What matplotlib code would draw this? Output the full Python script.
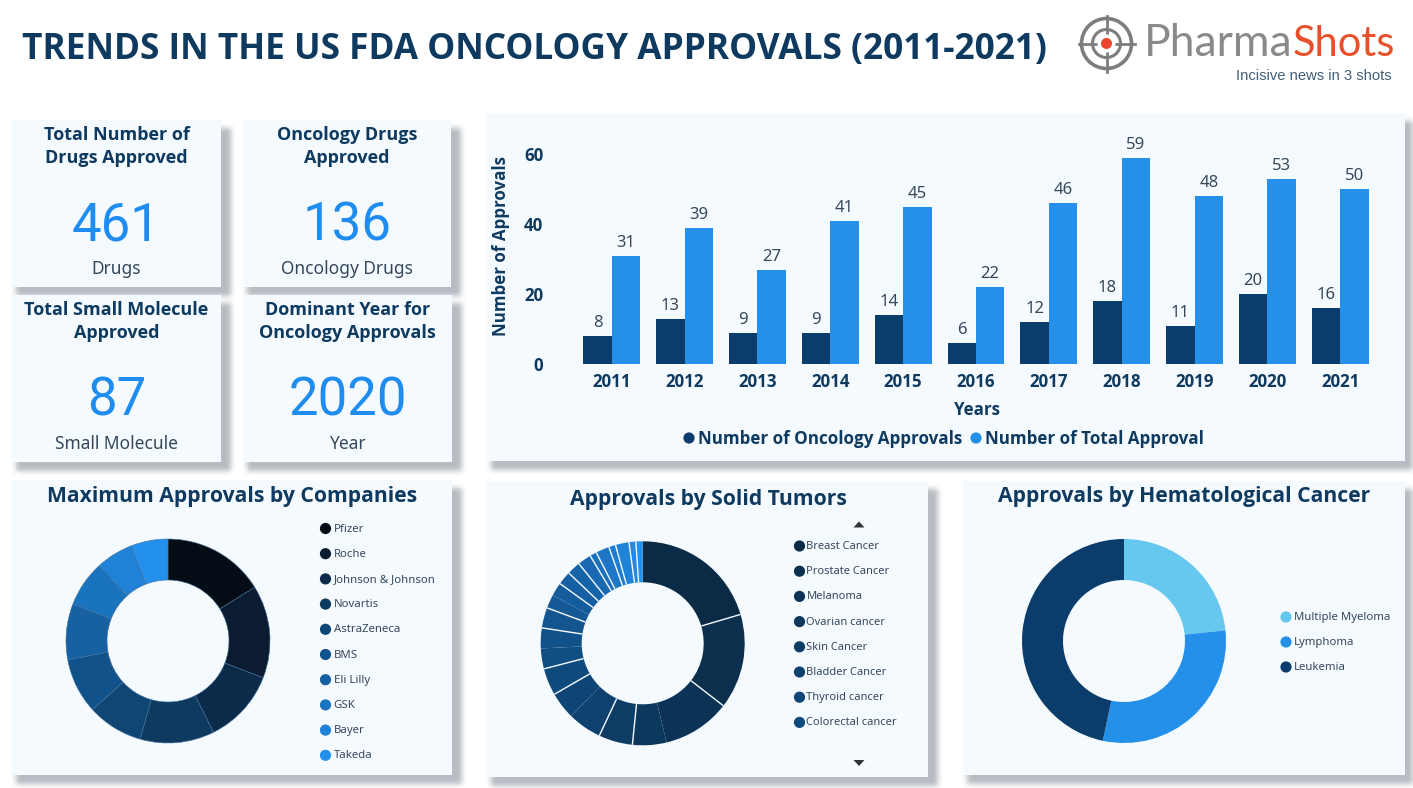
import numpy as np
import matplotlib
matplotlib.use("Agg")
import matplotlib.pyplot as plt
from matplotlib.colors import LinearSegmentedColormap
from matplotlib.patches import Circle, Rectangle, Polygon

plt.rcParams["font.family"] = ["Noto Sans", "DejaVu Sans"]

W, H = 1413, 788
NAVY = "#0f3a60"
DARK = "#0a3d6b"
BLUE = "#2490ea"
NUM_BLUE = "#1f8df0"
CARD = "#f5faff"
GREY_TXT = "#35485c"
BOLD = "Open Sans"

years = ["2011", "2012", "2013", "2014", "2015", "2016", "2017", "2018", "2019", "2020", "2021"]
oncology = [8, 13, 9, 9, 14, 6, 12, 18, 11, 20, 16]
total = [31, 39, 27, 41, 45, 22, 46, 59, 48, 53, 50]

kpi_titles = ["Total Number of\nDrugs Approved", "Oncology Drugs\nApproved",
              "Total Small Molecule\nApproved", "Dominant Year for\nOncology Approvals"]
kpi_values = ["461", "136", "87", "2020"]
kpi_units = ["Drugs", "Oncology Drugs", "Small Molecule", "Year"]

companies = ["Pfizer", "Roche", "Johnson & Johnson", "Novartis", "AstraZeneca",
             "BMS", "Eli Lilly", "GSK", "Bayer", "Takeda"]
company_vals = [11, 10, 8, 8, 6, 6, 6, 5, 4, 4]
company_cols = ["#040d16", "#0b1c30", "#0c2a4a", "#0e3a5f", "#0f4674",
                "#12528a", "#1761a3", "#1a73bd", "#1f82d6", "#2490ee"]

tumors_shown = ["Breast Cancer", "Prostate Cancer", "Melanoma", "Ovarian cancer",
                "Skin Cancer", "Bladder Cancer", "Thyroid cancer", "Colorectal cancer"]
tumor_vals = [19, 14, 10, 5, 5, 5, 4, 4, 3, 3, 3, 2, 2, 2, 2, 2, 1, 2, 1, 2, 1, 1]

heme = ["Multiple Myeloma", "Lymphoma", "Leukemia"]
heme_vals = [14, 18, 28]
heme_cols = ["#66c8ee", "#2490ea", "#0a3d6b"]

# card boxes in pixels: left, top, right, bottom
kpi_boxes = [(12, 120, 221, 287), (243, 120, 451, 287), (12, 295, 221, 462), (243, 295, 452, 462)]
panel_boxes = [(487, 113, 1405, 461), (12, 480, 452, 775), (487, 481, 928, 777), (963, 481, 1405, 775)]


def px_axes(fig, left, top, right, bottom):
    return fig.add_axes([left / W, 1 - bottom / H, (right - left) / W, (bottom - top) / H])


def blur(a, size=9):
    k = np.hanning(size + 2)[1:-1]
    k = k / k.sum()
    a = np.apply_along_axis(lambda r: np.convolve(r, k, mode="same"), 0, a)
    a = np.apply_along_axis(lambda r: np.convolve(r, k, mode="same"), 1, a)
    return a


def donut(fig, cx, cy, values, colors, edge=None):
    ax = px_axes(fig, cx - 102, cy - 102, cx + 102, cy + 102)
    wp = dict(width=41 / 102)
    if edge:
        wp.update(edgecolor=edge, linewidth=0.4)
    else:
        wp.update(linewidth=0)
    ax.pie(values, colors=colors, startangle=90, counterclock=False, radius=1, wedgeprops=wp)
    ax.set_xlim(-1, 1)
    ax.set_ylim(-1, 1)
    return ax


def dot_legend(bg, x, y0, step, labels, colors, size=8.2, gap=8):
    for i, (lab, c) in enumerate(zip(labels, colors)):
        y = y0 + i * step
        bg.add_patch(Circle((x, y), 5.6, color=c, lw=0, zorder=3))
        bg.text(x + gap, y + 0.5, lab, fontsize=size, color=GREY_TXT, va="center", ha="left", zorder=3)


fig = plt.figure(figsize=(W / 100, H / 100), dpi=100, facecolor="white")
bg = fig.add_axes([0, 0, 1, 1])
bg.set_xlim(0, W)
bg.set_ylim(H, 0)
bg.axis("off")

# soft card shadows
mask = np.zeros((H, W))
for l, t, r, b in kpi_boxes + panel_boxes:
    mask[t + 8:b + 9, l + 4:r + 10] = 1
mask = blur(mask, 13)
shadow = np.zeros((H, W, 4))
shadow[..., :3] = matplotlib.colors.to_rgb("#6f7a86")
shadow[..., 3] = mask * 0.5
bg.imshow(shadow, extent=(0, W, H, 0), aspect="auto", zorder=1, interpolation="bilinear")

for l, t, r, b in kpi_boxes + panel_boxes:
    bg.add_patch(Rectangle((l, t), r - l, b - t, facecolor=CARD, edgecolor="none", zorder=2))

bg.text(22, 50, "TRENDS IN THE US FDA ONCOLOGY APPROVALS (2011-2021)", fontsize=25.4,
        fontweight="bold", family=BOLD, color=NAVY, va="center", ha="left", zorder=3)

# logo
lx, ly = 1106.5, 43.5
for rad, lw in [(25, 2.6), (14, 2.2)]:
    bg.add_patch(Circle((lx, ly), rad, fill=False, edgecolor="#7d7d7d", lw=lw, zorder=3))
bg.plot([lx - 28, lx + 28], [ly, ly], color="#7d7d7d", lw=2, zorder=3)
bg.plot([lx, lx], [ly - 28, ly + 28], color="#7d7d7d", lw=2, zorder=3)
bg.add_patch(Circle((lx, ly), 9, color="white", lw=0, zorder=4))
bg.add_patch(Circle((lx, ly), 5.5, color="#e8452c", lw=0, zorder=5))
bg.text(1293, 56, "Pharma", fontsize=32, color="#8a8a8a", family="Lato", va="baseline", ha="right", zorder=3)
bg.text(1293, 56, "Shots", fontsize=30, color="#e8502a", family="Lato", va="baseline", ha="left", zorder=3)
bg.text(1392, 76, "Incisive news in 3 shots", fontsize=10.6, color="#3f5f7a", va="center", ha="right",
        family="Liberation Sans", zorder=3)

# KPI cards
for (l, t, r, b), title, val, unit in zip(kpi_boxes, kpi_titles, kpi_values, kpi_units):
    mid = (l + r) / 2
    bg.text(mid, t + 26.5, title, fontsize=13, fontweight="bold", family=BOLD, color=NAVY, ha="center",
            va="center", linespacing=1.36, zorder=3)
    bg.text(mid, t + 106, val, fontsize=38, color=NUM_BLUE, ha="center", va="center", family="Roboto", zorder=3)
    bg.text(mid, t + 149, unit, fontsize=12.5, color=GREY_TXT, ha="center", va="center", zorder=3)

# bar panel
ax = px_axes(fig, 575.3, 120, 1376.7, 364.3)
ax.patch.set_alpha(0)
x = np.arange(len(years))
bw = 0.39
b1 = ax.bar(x - bw / 2, oncology, bw, color=DARK, label="Number of Oncology Approvals")
b2 = ax.bar(x + bw / 2, total, bw, color=BLUE, label="Number of Total Approval")
for bars in (b1, b2):
    for rect in bars:
        ax.annotate(f"{int(rect.get_height())}", (rect.get_x() + rect.get_width() / 2, rect.get_height()),
                    xytext=(0, 9.3), textcoords="offset points", ha="center", va="center",
                    fontsize=12, color=GREY_TXT)
ax.set_xlim(-0.5, 10.5)
ax.set_ylim(0, 244.3 / 3.5)
ax.set_xticks(x, years)
ax.set_yticks([0, 20, 40, 60])
ax.tick_params(length=0, pad=6)
for lab in ax.get_xticklabels() + ax.get_yticklabels():
    lab.set_fontsize(12.2)
    lab.set_fontweight("bold")
    lab.set_family(BOLD)
    lab.set_color(NAVY)
ax.tick_params(axis="y", pad=23)
for s in ax.spines.values():
    s.set_visible(False)
bg.text(977, 409.5, "Years", fontsize=12.2, fontweight="bold", family=BOLD, color=NAVY, ha="center", va="center", zorder=3)
bg.text(501, 246, "Number of Approvals", fontsize=12.2, fontweight="bold", family=BOLD, color=NAVY, rotation=90,
        ha="center", va="center", zorder=3)
bg.add_patch(Circle((689, 438), 5.6, color=DARK, lw=0, zorder=3))
bg.text(698, 439, "Number of Oncology Approvals", fontsize=12.25, fontweight="bold", family=BOLD, color=NAVY,
        ha="left", va="center", zorder=3)
bg.add_patch(Circle((976, 438), 5.6, color=BLUE, lw=0, zorder=3))
bg.text(985, 439, "Number of Total Approval", fontsize=12.25, fontweight="bold", family=BOLD, color=NAVY,
        ha="left", va="center", zorder=3)

# donut: companies
bg.text(232, 496.5, "Maximum Approvals by Companies", fontsize=15.2, fontweight="bold", family=BOLD, color=NAVY,
        ha="center", va="center", zorder=3)
donut(fig, 168, 641, company_vals, company_cols, edge="#3f6f98")
dot_legend(bg, 325.5, 528.5, 25.2, companies, company_cols)

# donut: solid tumors
bg.text(708, 499.5, "Approvals by Solid Tumors", fontsize=15.2, fontweight="bold", family=BOLD, color=NAVY,
        ha="center", va="center", zorder=3)
cmap = LinearSegmentedColormap.from_list("tumors", ["#0b2a46", "#0f4a7d", "#1763a8", "#2490ee"])
tumor_cols = [cmap(i / (len(tumor_vals) - 1)) for i in range(len(tumor_vals))]
ax_t = donut(fig, 642.7, 643.3, tumor_vals, tumor_cols)
edges = np.cumsum(tumor_vals) / np.sum(tumor_vals) * 2 * np.pi
for i, ang in enumerate(edges[:-1], start=1):
    if i % 3 == 0 and i < 13:
        continue
    ax_t.plot([0.6 * np.sin(ang), np.sin(ang)], [0.6 * np.cos(ang), np.cos(ang)], color=CARD, lw=1.0,
              solid_capstyle="butt")
dot_legend(bg, 799.5, 546, 25.2, tumors_shown, tumor_cols, size=8.0, gap=7)
bg.add_patch(Polygon([(853.5, 527.5), (864.5, 527.5), (859, 521.5)], color="#333333", lw=0, zorder=3))
bg.add_patch(Polygon([(853.5, 760), (864.5, 760), (859, 766)], color="#333333", lw=0, zorder=3))

# donut: hematological
bg.text(1184, 496, "Approvals by Hematological Cancer", fontsize=15.2, fontweight="bold", family=BOLD, color=NAVY,
        ha="center", va="center", zorder=3)
donut(fig, 1124, 641, heme_vals, heme_cols)
dot_legend(bg, 1286, 617, 25, heme, heme_cols)

fig.savefig("out.png", dpi=100, facecolor="white")
